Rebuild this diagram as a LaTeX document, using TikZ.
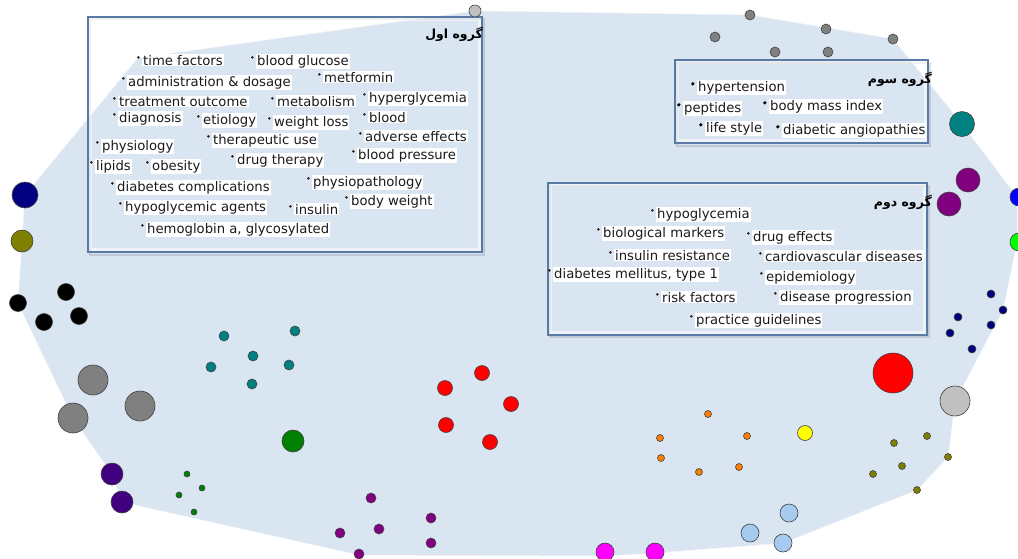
\documentclass[tikz,border=0pt]{standalone}
\usepackage{fontspec}
\setmainfont{DejaVu Sans}
\newfontfamily\arabicfont[Script=Arabic]{DejaVu Sans}
\TeXXeTstate=1
\definecolor{hullc}{HTML}{D9E5F1}
\definecolor{boxc}{HTML}{5A7AA6}
\definecolor{dotc}{HTML}{2A1414}
\definecolor{lgray}{HTML}{C0C0C0}
\definecolor{mgray}{HTML}{808080}
\definecolor{cteal}{HTML}{008080}
\definecolor{cpurple}{HTML}{800080}
\definecolor{cnavy}{HTML}{000080}
\definecolor{colive}{HTML}{808000}
\definecolor{corange}{HTML}{FF8000}
\definecolor{cltblue}{HTML}{A6CAF0}
\definecolor{cindigo}{HTML}{400080}
\definecolor{cgreen}{HTML}{008000}
\definecolor{cmagenta}{HTML}{FF00FF}
\definecolor{clime}{HTML}{00FF00}
\definecolor{cblue}{HTML}{0000FF}
\definecolor{cred}{HTML}{FF0000}
\definecolor{cyellow}{HTML}{FFFF00}
\definecolor{txtc}{HTML}{1A1A1A}
\tikzset{
  nd/.style={circle, draw=black!75, line width=0.6pt, inner sep=0pt, minimum size=#1},
  lbl/.style={fill=white, text=txtc, inner sep=1pt, anchor=base west, font=\fontsize{13.2}{15}\selectfont},
  grpbox/.style={draw=boxc, line width=1.1pt},
  grpglow/.style={draw=white, opacity=0.55, line width=3pt},
  grpshadow/.style={draw=black, opacity=0.12, line width=2.5pt},
  ttl/.style={anchor=base east, inner sep=0pt, font=\fontsize{12.5}{14}\selectfont}
}
\newcommand{\lab}[4]{%
  \node[lbl] (#1) at (#2,#3) {#4};
  \fill[dotc] ([shift={(-3.6,-7.6)}]#1.base west) circle (1.35);}
\newcommand{\labb}[4]{%
  \node[lbl] (#1) at (#2,#3) {#4};
  \fill[black] ([shift={(-4.2,-7.2)}]#1.base west) circle (1.8);}
\begin{document}
\begin{tikzpicture}[x=1pt,y=-1pt]
\useasboundingbox (0,0) rectangle (1018,558);
\clip (0,0) rectangle (1018,558);
% hull coordinates
\coordinate (h1) at (475,11);
\coordinate (h2) at (750,15);
\coordinate (h3) at (893,39);
\coordinate (h4) at (962,124);
\coordinate (h5) at (1017,197);
\coordinate (h6) at (1017,242);
\coordinate (h7) at (1003,310);
\coordinate (h8) at (955,401);
\coordinate (h9) at (948,457);
\coordinate (h10) at (917,490);
\coordinate (h11) at (783,543);
\coordinate (h12) at (655,553);
\coordinate (h13) at (605,556);
\coordinate (h14) at (359,555);
\coordinate (h15) at (122,502);
\coordinate (h16) at (112,474);
\coordinate (h17) at (73,418);
\coordinate (h18) at (18,303);
\coordinate (h19) at (25,195);
\coordinate (h20) at (138,58);
\fill[hullc] (h1) -- (h2) -- (h3) -- (h4) -- (h5) -- (h6) -- (h7) -- (h8) -- (h9) -- (h10) -- (h11) -- (h12) -- (h13) -- (h14) -- (h15) -- (h16) -- (h17) -- (h18) -- (h19) -- (h20) -- cycle;
\draw[white!55!hullc, line width=0.5pt] (h1) -- (h2) -- (h3) -- (h4) -- (h5) -- (h6) -- (h7) -- (h8) -- (h9) -- (h10) -- (h11) -- (h12) -- (h13) -- (h14) -- (h15) -- (h16) -- (h17) -- (h18) -- (h19) -- (h20) -- cycle;

% group boxes
\draw[grpshadow] (90,19) rectangle (484,255);
\draw[grpshadow] (677,63) rectangle (930,146);
\draw[grpshadow] (550,186) rectangle (929,337);
\draw[grpglow] (90.5,19.5) rectangle (479.5,249.5);
\draw[grpglow] (677.5,62.5) rectangle (925.5,140.5);
\draw[grpglow] (550.5,185.5) rectangle (924.5,332.5);
\draw[grpbox] (88,17) rectangle (482,252);
\draw[grpbox] (675,60) rectangle (928,143);
\draw[grpbox] (548,183) rectangle (927,335);

% nodes: top
\node[nd=12, fill=lgray] (a1) at (475,11) {};
\node[nd=10, fill=mgray] (a2) at (750,15) {};
\node[nd=10, fill=mgray] (a3) at (715,37) {};
\node[nd=10, fill=mgray] (a4) at (775,52) {};
\node[nd=10, fill=mgray] (a5) at (826,29) {};
\node[nd=10, fill=mgray] (a6) at (828,52) {};
\node[nd=10, fill=mgray] (a7) at (893,39) {};
% right side
\node[nd=25, fill=cteal] (b1) at (962,124) {};
\node[nd=24, fill=cpurple] (b2) at (968,180) {};
\node[nd=24, fill=cpurple] (b3) at (949,204) {};
\node[nd=18, fill=cblue] (b4) at (1019,197) {};
\node[nd=18, fill=clime] (b5) at (1019,242) {};
\node[nd=8, fill=cnavy] (b6) at (991,294) {};
\node[nd=8, fill=cnavy] (b7) at (1003,310) {};
\node[nd=8, fill=cnavy] (b8) at (958,317) {};
\node[nd=8, fill=cnavy] (b9) at (991,325) {};
\node[nd=8, fill=cnavy] (b10) at (950,333) {};
\node[nd=8, fill=cnavy] (b11) at (972,349) {};
\node[nd=40, fill=cred] (b12) at (893,373) {};
\node[nd=30, fill=lgray] (b13) at (955,401) {};
% olive small
\node[nd=7, fill=colive] (c1) at (927,436) {};
\node[nd=7, fill=colive] (c2) at (894,443) {};
\node[nd=7, fill=colive] (c3) at (948,457) {};
\node[nd=7, fill=colive] (c4) at (902,466) {};
\node[nd=7, fill=colive] (c5) at (873,474) {};
\node[nd=7, fill=colive] (c6) at (917,490) {};
% yellow, orange
\node[nd=15, fill=cyellow] (d1) at (805,433) {};
\node[nd=7, fill=corange] (d2) at (708,414) {};
\node[nd=7, fill=corange] (d3) at (660,438) {};
\node[nd=7, fill=corange] (d4) at (747,436) {};
\node[nd=7, fill=corange] (d5) at (661,458) {};
\node[nd=7, fill=corange] (d6) at (699,472) {};
\node[nd=7, fill=corange] (d7) at (739,467) {};
% light blue, magenta
\node[nd=18, fill=cltblue] (e1) at (789,513) {};
\node[nd=18, fill=cltblue] (e2) at (750,533) {};
\node[nd=18, fill=cltblue] (e3) at (783,543) {};
\node[nd=18, fill=cmagenta] (e4) at (605,552) {};
\node[nd=18, fill=cmagenta] (e5) at (655,552) {};
% red medium
\node[nd=15, fill=cred] (f1) at (482,373) {};
\node[nd=15, fill=cred] (f2) at (445,388) {};
\node[nd=15, fill=cred] (f3) at (511,404) {};
\node[nd=15, fill=cred] (f4) at (446,425) {};
\node[nd=15, fill=cred] (f5) at (490,442) {};
% purple small
\node[nd=10, fill=cpurple] (g1) at (371,498) {};
\node[nd=10, fill=cpurple] (g2) at (340,533) {};
\node[nd=10, fill=cpurple] (g3) at (379,529) {};
\node[nd=10, fill=cpurple] (g4) at (431,518) {};
\node[nd=10, fill=cpurple] (g5) at (431,543) {};
\node[nd=10, fill=cpurple] (g6) at (359,554) {};
% left side
\node[nd=26, fill=cnavy] (k1) at (25,195) {};
\node[nd=22, fill=colive] (k2) at (22,241) {};
\node[nd=17, fill=black] (k3) at (18,303) {};
\node[nd=17, fill=black] (k4) at (66,292) {};
\node[nd=17, fill=black] (k5) at (44,322) {};
\node[nd=17, fill=black] (k6) at (79,316) {};
\node[nd=30, fill=mgray] (k7) at (93,380) {};
\node[nd=30, fill=mgray] (k8) at (140,406) {};
\node[nd=30, fill=mgray] (k9) at (73,418) {};
\node[nd=22, fill=cindigo] (k10) at (112,474) {};
\node[nd=22, fill=cindigo] (k11) at (122,502) {};
% teal small
\node[nd=10, fill=cteal] (m1) at (224,336) {};
\node[nd=10, fill=cteal] (m2) at (295,331) {};
\node[nd=10, fill=cteal] (m3) at (253,356) {};
\node[nd=10, fill=cteal] (m4) at (211,367) {};
\node[nd=10, fill=cteal] (m5) at (289,365) {};
\node[nd=10, fill=cteal] (m6) at (252,384) {};
% green
\node[nd=22, fill=cgreen] (p1) at (293,441) {};
\node[nd=6, fill=cgreen] (p2) at (187,474) {};
\node[nd=6, fill=cgreen] (p3) at (202,488) {};
\node[nd=6, fill=cgreen] (p4) at (179,495) {};
\node[nd=6, fill=cgreen] (p5) at (194,512) {};

% titles
\node[ttl] (t1) at (483,38) {\arabicfont\bfseries\beginR گروه اول\endR};
\node[ttl] (t3) at (932,83) {\arabicfont\bfseries\beginR گروه سوم\endR};
\node[ttl] (t2) at (932,206) {\arabicfont\bfseries\beginR گروه دوم\endR};

% group 1 labels
\lab{l1}{142}{65}{time factors}
\lab{l2}{256}{65}{blood glucose}
\lab{l3}{127}{86}{administration \& dosage}
\lab{l4}{323}{82}{metformin}
\lab{l5}{118}{106}{treatment outcome}
\lab{l6}{276}{106}{metabolism}
\lab{l7}{368}{102}{hyperglycemia}
\lab{l8}{118}{122}{diagnosis}
\lab{l9}{202}{124}{etiology}
\lab{l10}{273}{126}{weight loss}
\lab{l11}{368}{122}{blood}
\lab{l12}{364}{141}{adverse effects}
\lab{l13}{101}{150}{physiology}
\lab{l14}{212}{144}{therapeutic use}
\lab{l15}{357}{159}{blood pressure}
\lab{l16}{236}{164}{drug therapy}
\lab{l17}{95}{170}{lipids}
\lab{l18}{151}{170}{obesity}
\lab{l19}{116}{191}{diabetes complications}
\lab{l20}{312}{186}{physiopathology}
\lab{l21}{350}{205}{body weight}
\lab{l22}{124}{211}{hypoglycemic agents}
\lab{l23}{294}{214}{insulin}
\lab{l24}{146}{233}{hemoglobin a, glycosylated}
% group 3 labels
\labb{r1}{697}{91}{hypertension}
\labb{r2}{683}{112}{peptides}
\labb{r3}{769}{110}{body mass index}
\labb{r4}{705}{132}{life style}
\labb{r5}{782}{134}{diabetic angiopathies}
% group 2 labels
\lab{s1}{656}{218}{hypoglycemia}
\lab{s2}{602}{237}{biological markers}
\lab{s3}{752}{241}{drug effects}
\lab{s4}{614}{260}{insulin resistance}
\lab{s5}{764}{261}{cardiovascular diseases}
\lab{s6}{553}{278}{diabetes mellitus, type 1}
\lab{s7}{765}{281}{epidemiology}
\lab{s8}{661}{302}{risk factors}
\lab{s9}{779}{301}{disease progression}
\lab{s10}{695}{324}{practice guidelines}
\end{tikzpicture}
\end{document}
